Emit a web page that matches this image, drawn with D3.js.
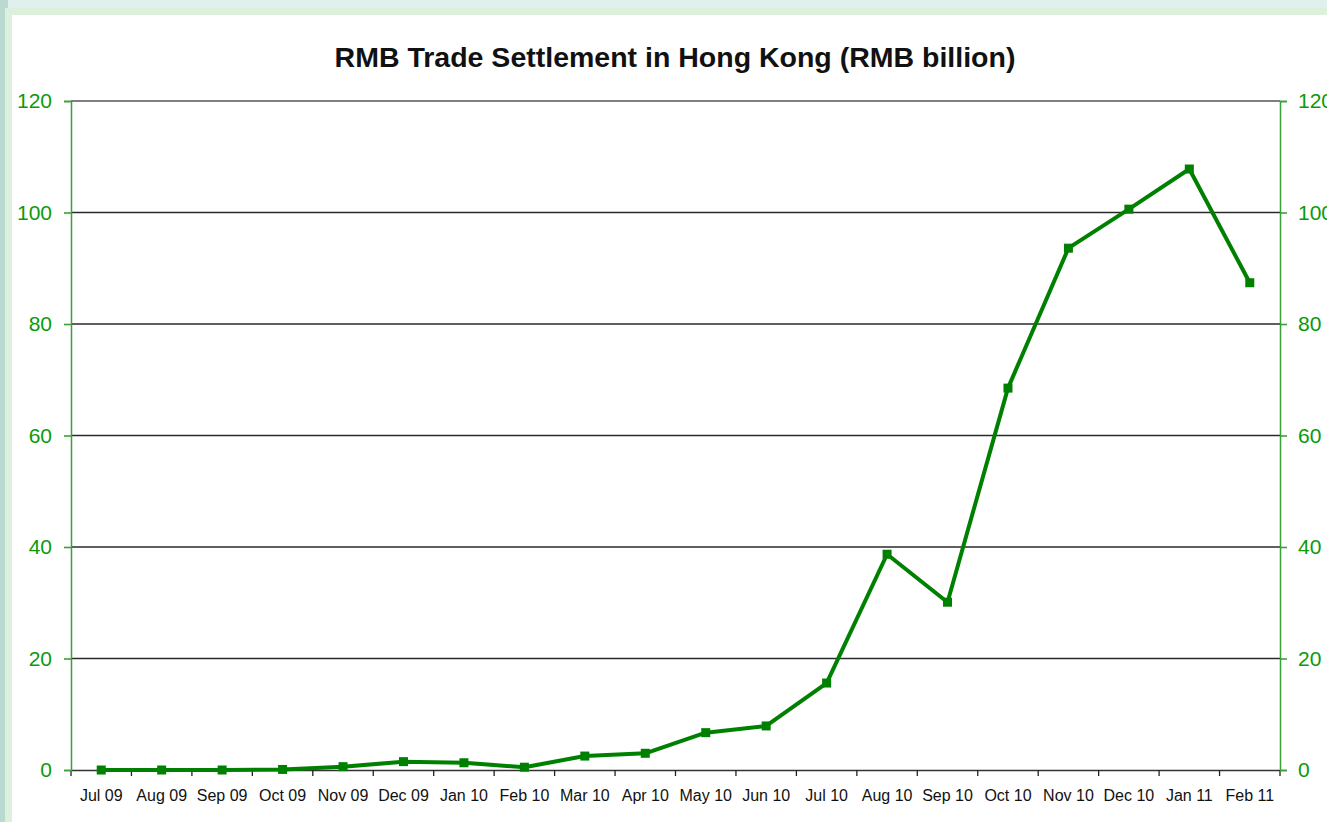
<!DOCTYPE html>
<html>
<head>
<meta charset="utf-8">
<script src="https://cdn.jsdelivr.net/npm/d3@7"></script>
<style>
  html, body { margin: 0; padding: 0; overflow: hidden; }
  body { font-family: "Liberation Sans", Arial, sans-serif; }
</style>
</head>
<body>
<svg id="chart" width="1327" height="822"></svg>
<script>
"use strict";

// donnees
var months = ["Jul 09", "Aug 09", "Sep 09", "Oct 09", "Nov 09", "Dec 09", "Jan 10", "Feb 10", "Mar 10", "Apr 10",
  "May 10", "Jun 10", "Jul 10", "Aug 10", "Sep 10", "Oct 10", "Nov 10", "Dec 10", "Jan 11", "Feb 11"]
var settlement = [0.0, 0.0, 0.0, 0.1, 0.6, 1.5, 1.3, 0.5, 2.5, 3.0,
  6.7, 7.9, 15.6, 38.7, 30.1, 68.5, 93.6, 100.6, 107.8, 87.4]
var yTicks = [0, 20, 40, 60, 80, 100, 120]
var title = "RMB Trade Settlement in Hong Kong (RMB billion)"

var GREEN = "#008000"
var AXIS_GREEN = "#3aa03a"
var LABEL_GREEN = "#0a9a0a"

/**
 * Dessine le fond (bordures claires autour du panneau blanc)
 */
function drawBackground(svg) {
  svg.append("rect").attr("width", 1327).attr("height", 822).attr("fill", "#dff0ee")
  svg.append("rect").attr("x", 0).attr("y", 0).attr("width", 8).attr("height", 822).attr("fill", "#b9d9d1")
  svg.append("rect").attr("x", 5).attr("y", 8).attr("width", 1322).attr("height", 814).attr("fill", "#dcf0dc")
  svg.append("rect").attr("x", 12).attr("y", 15).attr("width", 1315).attr("height", 807).attr("fill", "#ffffff")
}

function createScales(left, right, top, bottom) {
  var x = d3.scaleBand().domain(months).range([left, right])
  var y = d3.scaleLinear().domain([0, 120]).range([bottom, top])
  return [x, y]
}

function drawGrid(g, x, y) {
  g.append("g")
    .selectAll("line")
    .data(yTicks.filter(d => d > 0))
    .enter()
    .append("line")
      .attr("x1", x.range()[0])
      .attr("x2", x.range()[1])
      .attr("y1", d => y(d))
      .attr("y2", d => y(d))
      .attr("stroke", d => d === 120 ? "#555" : "#2a2a2a")
      .attr("stroke-width", 1.6)
}

function drawAxes(g, x, y) {
  var left = x.range()[0], right = x.range()[1]

  // axe x : traits de separation entre les mois
  var xAxis = d3.axisBottom(x).tickSize(0).tickPadding(20)
  var gx = g.append("g")
    .attr("transform", "translate(0," + y(0) + ")")
    .call(xAxis)
  gx.select(".domain").attr("stroke", "#333").attr("stroke-width", 1.6)
  gx.selectAll("text")
    .attr("fill", "#111")
    .style("font-size", "16px")
    .style("font-family", "'Liberation Sans', Arial, sans-serif")

  var bounds = months.map((m, i) => left + i * x.step()).concat([right])
  g.append("g")
    .selectAll("line")
    .data(bounds)
    .enter()
    .append("line")
      .attr("x1", d => d).attr("x2", d => d)
      .attr("y1", y(0)).attr("y2", y(0) + 6)
      .attr("stroke", "#222").attr("stroke-width", 1.3)

  // axes y gauche et droite
  var yLeft = d3.axisLeft(y).tickValues(yTicks).tickSize(7).tickPadding(12)
  var yRight = d3.axisRight(y).tickValues(yTicks).tickSize(7).tickPadding(11)

  var gl = g.append("g").attr("transform", "translate(" + left + ",0)").call(yLeft)
  var gr = g.append("g").attr("transform", "translate(" + right + ",0)").call(yRight)

  ;[gl, gr].forEach(a => {
    a.select(".domain").attr("stroke", AXIS_GREEN).attr("stroke-width", 1.5)
    a.selectAll(".tick line").attr("stroke", AXIS_GREEN).attr("stroke-width", 1.6)
    a.selectAll("text")
      .attr("fill", LABEL_GREEN)
      .style("font-size", "21px")
      .style("font-family", "'Liberation Sans', Arial, sans-serif")
  })
}

function drawLine(g, x, y) {
  var line = d3.line()
    .x((d, i) => x(months[i]) + x.bandwidth() / 2)
    .y(d => y(d))

  g.append("path")
    .datum(settlement)
    .attr("d", line)
    .attr("fill", "none")
    .attr("stroke", GREEN)
    .attr("stroke-width", 4)
    .attr("stroke-linejoin", "round")

  g.append("g")
    .selectAll("rect")
    .data(settlement)
    .enter()
    .append("rect")
      .attr("x", (d, i) => x(months[i]) + x.bandwidth() / 2 - 4.5)
      .attr("y", d => y(d) - 4.5)
      .attr("width", 9)
      .attr("height", 9)
      .attr("fill", GREEN)
}

function drawTitle(svg) {
  svg.append("text")
    .attr("x", 675)
    .attr("y", 67)
    .attr("text-anchor", "middle")
    .attr("fill", "#111")
    .style("font-size", "28.5px")
    .style("font-weight", "bold")
    .style("font-family", "'Liberation Sans', Arial, sans-serif")
    .text(title)
}

function init() {
  var svg = d3.select("#chart")
  drawBackground(svg)

  var [x, y] = createScales(71, 1280, 101, 770)
  var g = svg.append("g")

  drawGrid(g, x, y)
  drawAxes(g, x, y)
  drawLine(g, x, y)
  drawTitle(svg)
}

init()
</script>
</body>
</html>
